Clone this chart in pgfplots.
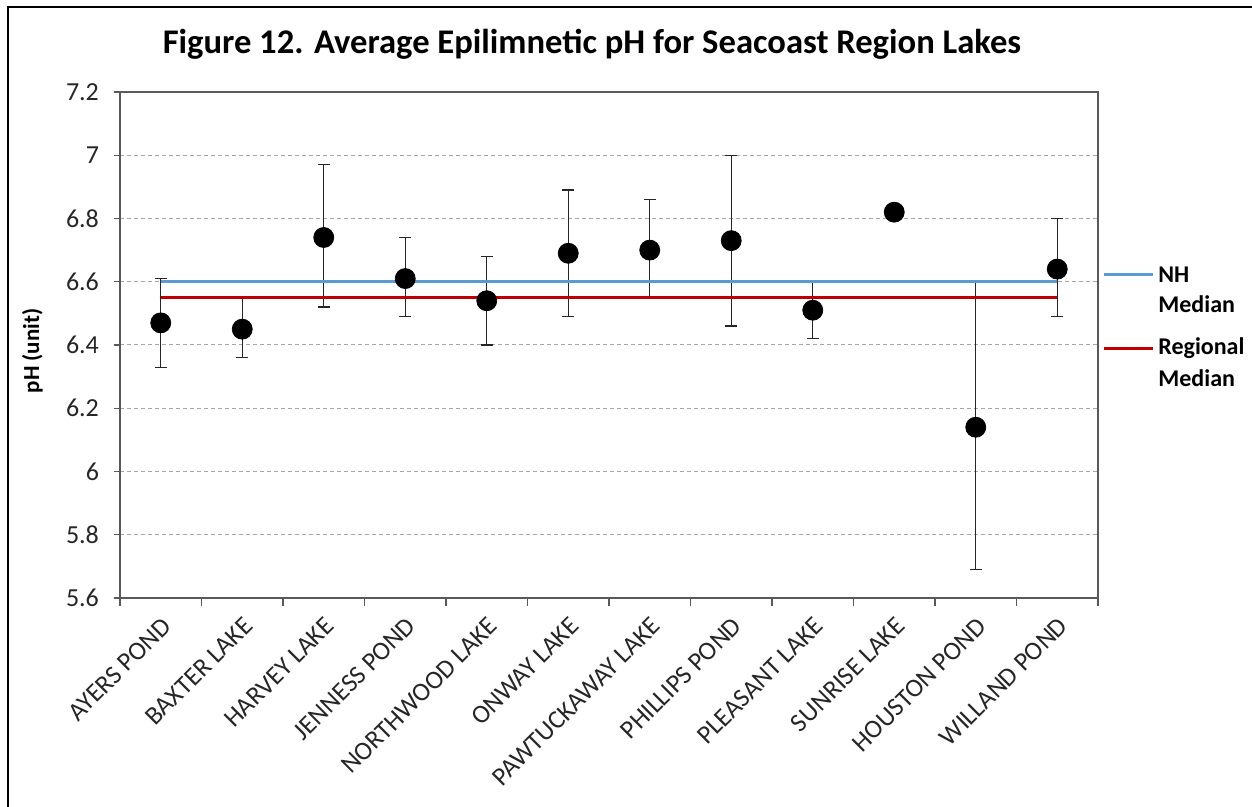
\documentclass[border=0pt]{standalone}
\usepackage{pgfplots}
\pgfplotsset{compat=1.18}
\usepackage{fontspec}
\setmainfont{Carlito}
\definecolor{nhblue}{HTML}{5B9BD5}
\definecolor{regred}{HTML}{C00000}
\definecolor{axgray}{HTML}{595959}
\definecolor{gridgray}{HTML}{A6A6A6}
\begin{document}
\begin{tikzpicture}
\useasboundingbox (-60pt,-104.5pt) rectangle (566pt,299pt);
\begin{axis}[
  at={(0,0)}, anchor=south west,
  scale only axis, width=489pt, height=253pt,
  xmin=-0.5, xmax=11.5, ymin=5.6, ymax=7.2,
  xtick={0,...,11},
  xticklabels={AYERS POND,BAXTER LAKE,HARVEY LAKE,JENNESS POND,NORTHWOOD LAKE,ONWAY LAKE,PAWTUCKAWAY LAKE,PHILLIPS POND,PLEASANT LAKE,SUNRISE LAKE,HOUSTON POND,WILLAND POND},
  minor xtick={-0.5,0.5,...,11.5},
  ytick={5.6,5.8,6,6.2,6.4,6.6,6.8,7,7.2},
  yticklabels={5.6,5.8,6,6.2,6.4,6.6,6.8,7,7.2},
  xtick pos=bottom, ytick pos=left,
  tick align=outside,
  major x tick style={draw=none},
  minor tick length=4pt,
  major tick length=3pt,
  tick style={axgray, line width=0.6pt},
  axis line style={axgray, line width=0.8pt},
  ymajorgrids,
  grid style={gridgray, dash pattern=on 2pt off 1.5pt, line width=0.5pt},
  /pgf/number format/assume math mode=true,
  ticklabel style={font=\fontsize{13}{15}\selectfont, text=black!85},
  xticklabel style={rotate=45, anchor=north east, inner sep=1pt, yshift=-3pt, xshift=-3pt},
  yticklabel style={xshift=-4pt},
  clip=false,
]
% error bars only
\addplot[draw=none, mark=none, forget plot,
  error bars/.cd, y dir=both, y explicit,
  error bar style={black!85, line width=0.55pt},
  error mark options={rotate=90, mark size=3pt, black!85, line width=0.55pt}]
  table[x=x, y=y, y error plus=ep, y error minus=em] {
x y ep em
0 6.47 0.14 0.14
1 6.45 0.10 0.09
2 6.74 0.23 0.22
3 6.61 0.13 0.12
4 6.54 0.14 0.14
5 6.69 0.20 0.20
6 6.70 0.16 0.15
7 6.73 0.27 0.27
8 6.51 0.09 0.09
9 6.82 0 0
10 6.14 0.46 0.45
11 6.64 0.16 0.15
};
% medians
\addplot[nhblue, line width=1.5pt, mark=none] coordinates {(0,6.6) (11,6.6)};
\addplot[regred, line width=1.5pt, mark=none] coordinates {(0,6.55) (11,6.55)};
% means
\addplot[only marks, mark=*, mark size=5pt, mark options={fill=black, draw=black}]
  table[x=x, y=y] {
x y
0 6.47
1 6.45
2 6.74
3 6.61
4 6.54
5 6.69
6 6.70
7 6.73
8 6.51
9 6.82
10 6.14
11 6.64
};
\end{axis}
% frame
\draw[black, line width=1.3pt] (-56pt,-200pt) -- (-56pt,295.5pt) -- (700pt,295.5pt);
% title
\node[anchor=base, font=\bfseries\fontsize{17.3}{20}\selectfont] at (236pt,272pt) {Figure 12. Average Epilimnetic pH for Seacoast Region Lakes};
% y label
\node[rotate=90, font=\bfseries\fontsize{11.5}{13}\selectfont] at (-43.75pt,123.5pt) {pH (unit)};
% legend
\draw[nhblue, line width=1.5pt] (492pt,161.5pt) -- (516.5pt,161.5pt);
\draw[regred, line width=1.5pt] (492pt,124.8pt) -- (516.5pt,124.8pt);
\begin{scope}[every node/.style={anchor=west, inner sep=0pt, font=\bfseries\fontsize{12}{14}\selectfont}]
\node at (519pt,161.5pt) {NH};
\node at (519pt,147pt) {Median};
\node at (519pt,124.8pt) {Regional};
\node at (519pt,110pt) {Median};
\end{scope}
\end{tikzpicture}
\end{document}
